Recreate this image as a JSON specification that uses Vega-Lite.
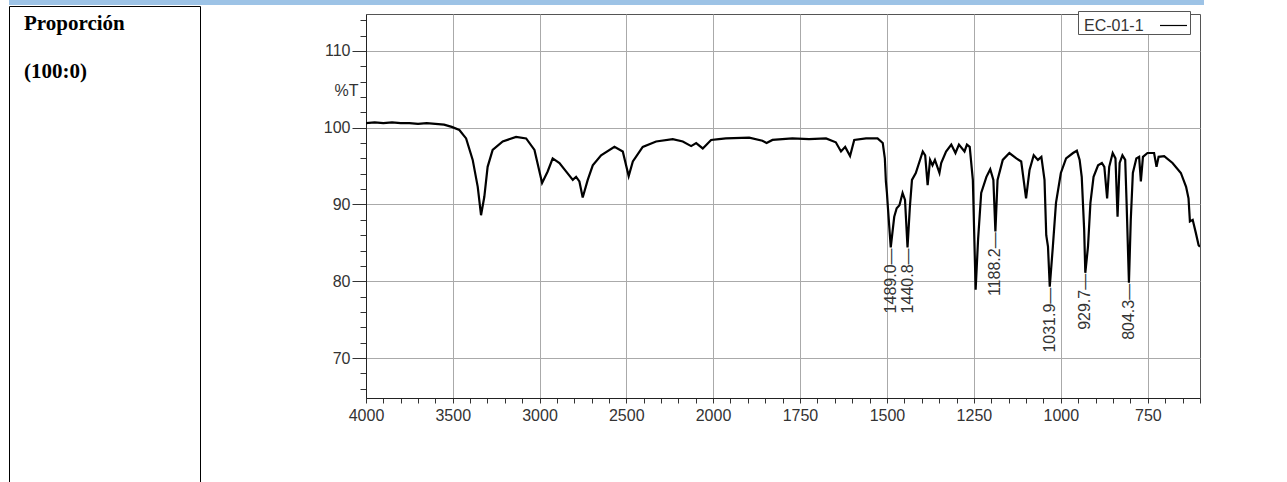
{
  "$schema": "https://vega.github.io/schema/vega-lite/v6.json",
  "padding": {"left": 8, "top": 0, "right": 0, "bottom": 0},
  "background": "white",
  "spacing": 0,
  "config": {"view": {"stroke": null}, "font": "Liberation Sans"},
  "datasets": {
    "spectrum": [
      {"w": 4000, "t": 100.6}, {"w": 3950, "t": 100.7}, {"w": 3900, "t": 100.6}, {"w": 3850, "t": 100.7},
      {"w": 3800, "t": 100.6}, {"w": 3750, "t": 100.6}, {"w": 3700, "t": 100.5}, {"w": 3650, "t": 100.6},
      {"w": 3600, "t": 100.5}, {"w": 3550, "t": 100.4}, {"w": 3506, "t": 100.1}, {"w": 3462, "t": 99.7},
      {"w": 3423, "t": 98.6}, {"w": 3385, "t": 95.8}, {"w": 3356, "t": 92.3}, {"w": 3337, "t": 88.6},
      {"w": 3318, "t": 91.0}, {"w": 3299, "t": 94.9}, {"w": 3270, "t": 97.1}, {"w": 3212, "t": 98.2},
      {"w": 3135, "t": 98.8}, {"w": 3077, "t": 98.6}, {"w": 3029, "t": 97.1}, {"w": 2985, "t": 92.8},
      {"w": 2953, "t": 94.3}, {"w": 2924, "t": 96.0}, {"w": 2885, "t": 95.4}, {"w": 2847, "t": 94.3},
      {"w": 2808, "t": 93.2}, {"w": 2789, "t": 93.6}, {"w": 2770, "t": 93.0}, {"w": 2751, "t": 90.9},
      {"w": 2722, "t": 93.2}, {"w": 2693, "t": 95.1}, {"w": 2645, "t": 96.4}, {"w": 2568, "t": 97.5},
      {"w": 2520, "t": 96.9}, {"w": 2486, "t": 93.7}, {"w": 2462, "t": 95.6}, {"w": 2405, "t": 97.5},
      {"w": 2328, "t": 98.2}, {"w": 2232, "t": 98.5}, {"w": 2174, "t": 98.2}, {"w": 2126, "t": 97.6},
      {"w": 2097, "t": 98.0}, {"w": 2059, "t": 97.3}, {"w": 2011, "t": 98.4}, {"w": 1983, "t": 98.5},
      {"w": 1963, "t": 98.6}, {"w": 1896, "t": 98.7}, {"w": 1858, "t": 98.3}, {"w": 1846, "t": 98.0},
      {"w": 1829, "t": 98.4}, {"w": 1772, "t": 98.6}, {"w": 1724, "t": 98.5}, {"w": 1675, "t": 98.6},
      {"w": 1647, "t": 98.1}, {"w": 1632, "t": 96.9}, {"w": 1620, "t": 97.5}, {"w": 1606, "t": 96.3},
      {"w": 1594, "t": 98.4}, {"w": 1560, "t": 98.6}, {"w": 1527, "t": 98.6}, {"w": 1512, "t": 98.0},
      {"w": 1506, "t": 96.0}, {"w": 1503, "t": 93.0}, {"w": 1500, "t": 91.5}, {"w": 1497, "t": 89.5},
      {"w": 1489, "t": 84.4}, {"w": 1479, "t": 88.4}, {"w": 1472, "t": 89.5}, {"w": 1464, "t": 89.9},
      {"w": 1455, "t": 91.5}, {"w": 1448, "t": 90.6}, {"w": 1440.8, "t": 84.4}, {"w": 1434, "t": 89.7},
      {"w": 1428, "t": 93.2}, {"w": 1417, "t": 94.1}, {"w": 1397, "t": 96.9}, {"w": 1390, "t": 96.4},
      {"w": 1383, "t": 92.5}, {"w": 1376, "t": 95.8}, {"w": 1369, "t": 95.1}, {"w": 1362, "t": 95.8},
      {"w": 1349, "t": 94.1}, {"w": 1344, "t": 95.4}, {"w": 1330, "t": 96.9}, {"w": 1315, "t": 97.8},
      {"w": 1303, "t": 96.7}, {"w": 1293, "t": 97.8}, {"w": 1277, "t": 96.9}, {"w": 1270, "t": 97.8},
      {"w": 1262, "t": 97.5}, {"w": 1253, "t": 93.2}, {"w": 1245, "t": 78.9}, {"w": 1238, "t": 85.4},
      {"w": 1229, "t": 91.5}, {"w": 1214, "t": 93.6}, {"w": 1203, "t": 94.6}, {"w": 1194, "t": 93.2},
      {"w": 1188.2, "t": 86.5}, {"w": 1182, "t": 93.2}, {"w": 1167, "t": 95.8}, {"w": 1148, "t": 96.7},
      {"w": 1128, "t": 96.0}, {"w": 1114, "t": 95.6}, {"w": 1100, "t": 90.8}, {"w": 1090, "t": 94.5},
      {"w": 1078, "t": 96.4}, {"w": 1066, "t": 95.8}, {"w": 1056, "t": 96.2}, {"w": 1047, "t": 93.2},
      {"w": 1042, "t": 86.0}, {"w": 1037, "t": 84.5}, {"w": 1031.9, "t": 79.3}, {"w": 1023, "t": 84.5},
      {"w": 1014, "t": 90.2}, {"w": 1000, "t": 94.1}, {"w": 985, "t": 96.0}, {"w": 965, "t": 96.7},
      {"w": 954, "t": 97.0}, {"w": 946, "t": 95.8}, {"w": 940, "t": 93.6}, {"w": 933, "t": 86.7},
      {"w": 929.7, "t": 81.1}, {"w": 922, "t": 84.5}, {"w": 915, "t": 90.2}, {"w": 906, "t": 93.6},
      {"w": 893, "t": 95.1}, {"w": 882, "t": 95.4}, {"w": 875, "t": 94.9}, {"w": 867, "t": 90.8},
      {"w": 861, "t": 94.9}, {"w": 851, "t": 96.7}, {"w": 843, "t": 96.0}, {"w": 837, "t": 88.4},
      {"w": 831, "t": 95.4}, {"w": 823, "t": 96.4}, {"w": 815, "t": 95.8}, {"w": 811, "t": 90.2},
      {"w": 804.3, "t": 79.8}, {"w": 799, "t": 88.0}, {"w": 793, "t": 94.1}, {"w": 783, "t": 96.0},
      {"w": 775, "t": 96.2}, {"w": 770, "t": 93.0}, {"w": 764, "t": 96.2}, {"w": 751, "t": 96.7},
      {"w": 732, "t": 96.7}, {"w": 725, "t": 94.9}, {"w": 719, "t": 96.2}, {"w": 703, "t": 96.3},
      {"w": 679, "t": 95.4}, {"w": 655, "t": 94.1}, {"w": 640, "t": 92.3}, {"w": 633, "t": 90.8},
      {"w": 629, "t": 87.8}, {"w": 621, "t": 88.0}, {"w": 612, "t": 86.3}, {"w": 604, "t": 84.7},
      {"w": 600, "t": 84.5}
    ],
    "peaks": [
      {"w": 1489.0, "t": 84.4, "label": "1489.0—"},
      {"w": 1440.8, "t": 84.4, "label": "1440.8—"},
      {"w": 1188.2, "t": 86.5, "label": "1188.2—"},
      {"w": 1031.9, "t": 79.3, "label": "1031.9—"},
      {"w": 929.7, "t": 81.1, "label": "929.7—"},
      {"w": 804.3, "t": 79.8, "label": "804.3—"}
    ]
  },
  "vconcat": [
    {
      "width": 1195,
      "height": 5,
      "view": {"fill": "#9dc3e6", "stroke": null},
      "data": {"values": []},
      "mark": {"type": "point"}
    },
    {
      "spacing": 121,
      "hconcat": [
        {
          "width": 191,
          "height": 477,
          "view": {"fill": "white", "stroke": "black", "strokeWidth": 1},
          "title": {
            "text": ["Proporción", "(100:0)"],
            "anchor": "start",
            "frame": "group",
            "orient": "top",
            "offset": -76,
            "baseline": "top",
            "dx": 15,
            "font": "Liberation Serif",
            "fontSize": 21,
            "fontWeight": "bold",
            "color": "black",
            "lineHeight": 48
          },
          "data": {"values": []},
          "mark": {"type": "point"}
        },
        {
          "spacing": 4,
          "vconcat": [
            {
              "width": 1,
              "height": 1,
              "view": {"stroke": null},
              "data": {"values": []},
              "mark": {"type": "point"}
            },
            {
              "width": 834,
              "height": 384,
              "view": {"stroke": "#555", "fill": "white"},
              "encoding": {
                "x": {
                  "field": "w",
                  "type": "quantitative",
                  "scale": {"domain": [4000, 2000, 600], "range": [0, 347, 834], "zero": false, "nice": false},
                  "axis": {
                    "title": null,
                    "values": [4000, 3900, 3800, 3700, 3600, 3500, 3400, 3300, 3200, 3100, 3000, 2900, 2800, 2700, 2600, 2500, 2400, 2300, 2200, 2100, 2000, 1950, 1900, 1850, 1800, 1750, 1700, 1650, 1600, 1550, 1500, 1450, 1400, 1350, 1300, 1250, 1200, 1150, 1100, 1050, 1000, 950, 900, 850, 800, 750, 700, 650, 600],
                    "labelExpr": "((datum.value >= 2000 && datum.value % 500 === 0) || (datum.value < 2000 && datum.value % 250 === 0)) ? datum.label : ''",
                    "format": "d",
                    "labelOverlap": false,
                    "labelFlush": false,
                    "labelBound": false,
                    "labelFont": "Liberation Sans",
                    "labelFontSize": 16,
                    "labelColor": "#333",
                    "labelPadding": 4,
                    "tickSize": 5,
                    "tickColor": "#333",
                    "domainColor": "#222",
                    "grid": true,
                    "gridColor": "#aaa",
                    "gridOpacity": {"condition": {"test": "((datum.value >= 2000 && datum.value % 500 === 0) || (datum.value < 2000 && datum.value % 250 === 0))", "value": 1}, "value": 0}
                  }
                },
                "y": {
                  "field": "t",
                  "type": "quantitative",
                  "scale": {"domain": [64.8, 114.8], "zero": false, "nice": false},
                  "axis": {
                    "title": null,
                    "values": [66, 68, 70, 72, 74, 76, 78, 80, 82, 84, 86, 88, 90, 92, 94, 96, 98, 100, 102, 104, 104.8, 106, 108, 110, 112, 114],
                    "labelExpr": "datum.value === 104.8 ? '%T' : (datum.value % 10 === 0 ? datum.label : '')",
                    "labelOverlap": false,
                    "labelFlush": false,
                    "labelBound": false,
                    "labelFont": "Liberation Sans",
                    "labelFontSize": 16,
                    "labelColor": "#333",
                    "labelPadding": 2,
                    "tickColor": "#333",
                    "tickSize": {"condition": {"test": "datum.value % 10 === 0", "value": 14}, "value": 6},
                    "tickOpacity": {"condition": {"test": "datum.value === 104.8", "value": 0}, "value": 1},
                    "domainColor": "#222",
                    "grid": true,
                    "gridColor": "#aaa",
                    "gridOpacity": {"condition": {"test": "datum.value % 10 === 0", "value": 1}, "value": 0}
                  }
                }
              },
              "layer": [
                {
                  "data": {"name": "spectrum"},
                  "mark": {"type": "line", "strokeWidth": 2.2, "clip": true},
                  "encoding": {
                    "stroke": {
                      "datum": "EC-01-1",
                      "scale": {"range": ["black"]},
                      "legend": {
                        "title": null,
                        "orient": "none",
                        "legendX": 1069,
                        "legendY": 11,
                        "symbolType": "stroke",
                        "symbolSize": 729,
                        "symbolStrokeWidth": 1.2,
                        "symbolStrokeColor": "black",
                        "labelFont": "Liberation Sans",
                        "labelFontSize": 16,
                        "labelColor": "#333",
                        "labelOffset": -104,
                        "symbolOffset": 81,
                        "padding": 0,
                        "strokeColor": "#555",
                        "fillColor": "white"
                      }
                    }
                  }
                },
                {
                  "data": {"name": "peaks"},
                  "mark": {"type": "text", "angle": 270, "align": "right", "baseline": "middle", "dx": -1, "font": "Liberation Sans", "fontSize": 16, "color": "#333"},
                  "encoding": {
                    "text": {"field": "label"}
                  }
                }
              ]
            }
          ]
        }
      ]
    }
  ]
}
